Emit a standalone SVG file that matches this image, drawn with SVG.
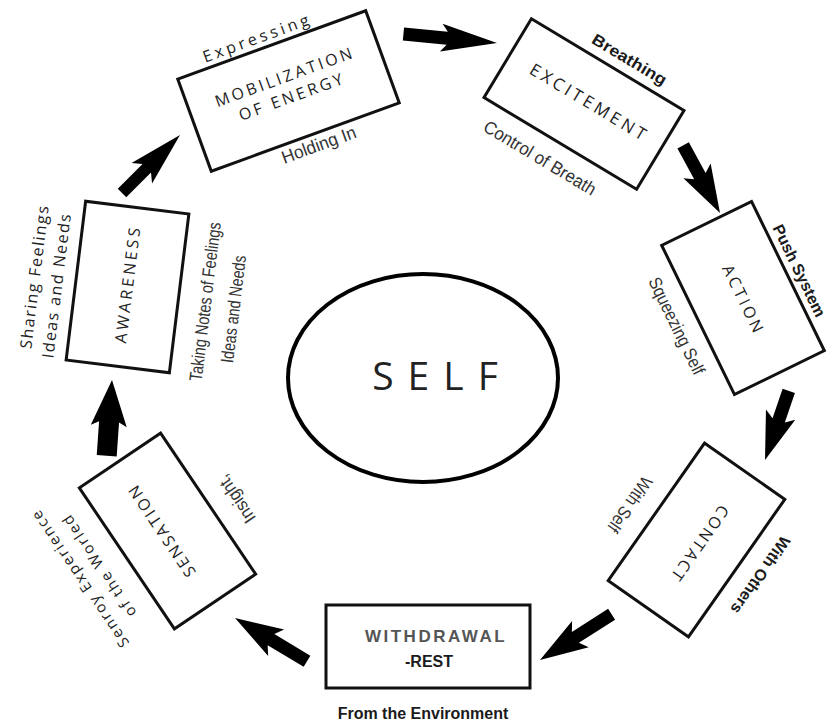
<svg xmlns="http://www.w3.org/2000/svg" width="832" height="722" viewBox="0 0 832 722">
<style>
.box{fill:#fff;stroke:#111;stroke-width:3}
.hum{font-family:"Open Sans","Noto Sans",sans-serif;fill:#222;text-anchor:middle}
.nar{font-family:"Liberation Sans",Arial,sans-serif;fill:#333;text-anchor:middle;font-size:18px}
.bld{font-family:"Liberation Sans",Arial,sans-serif;font-weight:bold;fill:#1a1a1a;text-anchor:middle;font-size:16px}
.arrow{fill:#000}
</style>
<rect width="832" height="722" fill="#fff"/>

<g id="connectors">
<path class="arrow" transform="translate(497,43) rotate(5.5)" d="M0,0 L-56,-14 L-50,-6.5 L-94,-6.5 L-94,6.5 L-50,6.5 L-56,14 Z"/>
<path class="arrow" transform="translate(720,213) rotate(61.4)" d="M0,0 L-48,-15.5 L-42,-6.5 L-77,-6.5 L-77,6.5 L-42,6.5 L-48,15.5 Z"/>
<path class="arrow" transform="translate(765,460) rotate(109)" d="M0,0 L-48,-15.5 L-42,-6.5 L-73,-6.5 L-73,6.5 L-42,6.5 L-48,15.5 Z"/>
<path class="arrow" transform="translate(540,660) rotate(147.4)" d="M0,0 L-48,-15.5 L-42,-6.5 L-85,-6.5 L-85,6.5 L-42,6.5 L-48,15.5 Z"/>
<path class="arrow" transform="translate(235,618) rotate(211)" d="M0,0 L-48,-15.5 L-42,-6.5 L-84,-6.5 L-84,6.5 L-42,6.5 L-48,15.5 Z"/>
<path class="arrow" transform="translate(112,380) rotate(-86)" d="M0,0 L-46,-18 L-42,-10 L-76,-10 L-76,10 L-42,10 L-46,18 Z"/>
<path class="arrow" transform="translate(180,135) rotate(-45)" d="M0,0 L-54,-14.5 L-47,-6 L-82,-6 L-82,6 L-47,6 L-54,14.5 Z"/>
</g>

<g id="self">
<ellipse cx="423" cy="378" rx="135" ry="104" fill="none" stroke="#000" stroke-width="4"/>
<text class="hum" x="442" y="390" font-size="39" letter-spacing="14">SELF</text>
</g>

<g id="mobilization" transform="translate(288.5,91) rotate(-20)">
<rect class="box" x="-100" y="-49" width="200" height="98"/>
<text class="hum" x="1.5" y="-9" font-size="16" letter-spacing="3">MOBILIZATION</text>
<text class="hum" x="1.5" y="12" font-size="16" letter-spacing="3">OF ENERGY</text>
<text class="hum" x="-11" y="-55" font-size="16" letter-spacing="3.5">Expressing</text>
<text class="nar" x="10" y="67" font-size="17" textLength="78" lengthAdjust="spacingAndGlyphs">Holding In</text>
</g>

<g id="excitement" transform="translate(584,104) rotate(31)">
<rect class="box" x="-89" y="-46" width="178" height="92"/>
<text class="hum" x="4" y="2" font-size="17" letter-spacing="3.5">EXCITEMENT</text>
<text class="bld" x="16" y="-56" font-size="17" textLength="84" lengthAdjust="spacingAndGlyphs">Breathing</text>
<text class="nar" x="-10" y="75" textLength="128" lengthAdjust="spacingAndGlyphs">Control of Breath</text>
</g>

<g id="action" transform="translate(743,298) rotate(64)">
<rect class="box" x="-83" y="-50" width="166" height="100"/>
<text class="hum" x="2" y="6" font-size="16" letter-spacing="3">ACTION</text>
<text class="bld" x="0" y="-57" font-size="15.5">Push System</text>
<text class="nar" x="-4" y="78" textLength="106" lengthAdjust="spacingAndGlyphs">Squeezing Self</text>
</g>

<g id="contact" transform="translate(696.5,540) rotate(125)">
<rect class="box" x="-84" y="-49" width="168" height="98"/>
<text class="hum" x="1.5" y="1" font-size="16" letter-spacing="2.5">CONTACT</text>
<text class="bld" x="-8" y="-67">With Others</text>
<text class="nar" x="9" y="81" textLength="64" lengthAdjust="spacingAndGlyphs">With Self</text>
</g>

<g id="withdrawal">
<rect class="box" x="326" y="605" width="204" height="83"/>
<text x="436" y="642" font-family="Liberation Sans, Arial, sans-serif" font-weight="bold" font-size="17" letter-spacing="2.5" fill="#555" text-anchor="middle">WITHDRAWAL</text>
<text class="bld" x="429" y="667" font-size="19">-REST</text>
<text class="bld" x="423" y="719" font-size="17">From the Environment</text>
</g>

<g id="sensation" transform="translate(167.5,531) rotate(-124)">
<rect class="box" x="-85" y="-49" width="170" height="98"/>
<text class="hum" x="4" y="1" font-size="16" letter-spacing="2.5">SENSATION</text>
<text class="nar" x="-12" y="81" textLength="54" lengthAdjust="spacingAndGlyphs">Insight,</text>
<text class="hum" x="10" y="-94" font-size="15" letter-spacing="2">Senroy Experience</text>
<text class="hum" x="10" y="-71" font-size="15" letter-spacing="2">of the Worled</text>
</g>

<g id="awareness" transform="translate(127.5,287) rotate(-83)">
<rect class="box" x="-80" y="-52" width="160" height="104"/>
<text class="hum" x="3" y="5.5" font-size="16" letter-spacing="3">AWARENESS</text>
<text class="hum" x="-1" y="-88" font-size="16" letter-spacing="1.5">Sharing Feelings</text>
<text class="hum" x="-7" y="-65" font-size="16" letter-spacing="1.5">Ideas and Needs</text>
<text class="nar" x="-5" y="85" textLength="160" lengthAdjust="spacingAndGlyphs">Taking Notes of Feelings</text>
<text class="nar" x="-9" y="114" textLength="108" lengthAdjust="spacingAndGlyphs">Ideas and Needs</text>
</g>
</svg>
